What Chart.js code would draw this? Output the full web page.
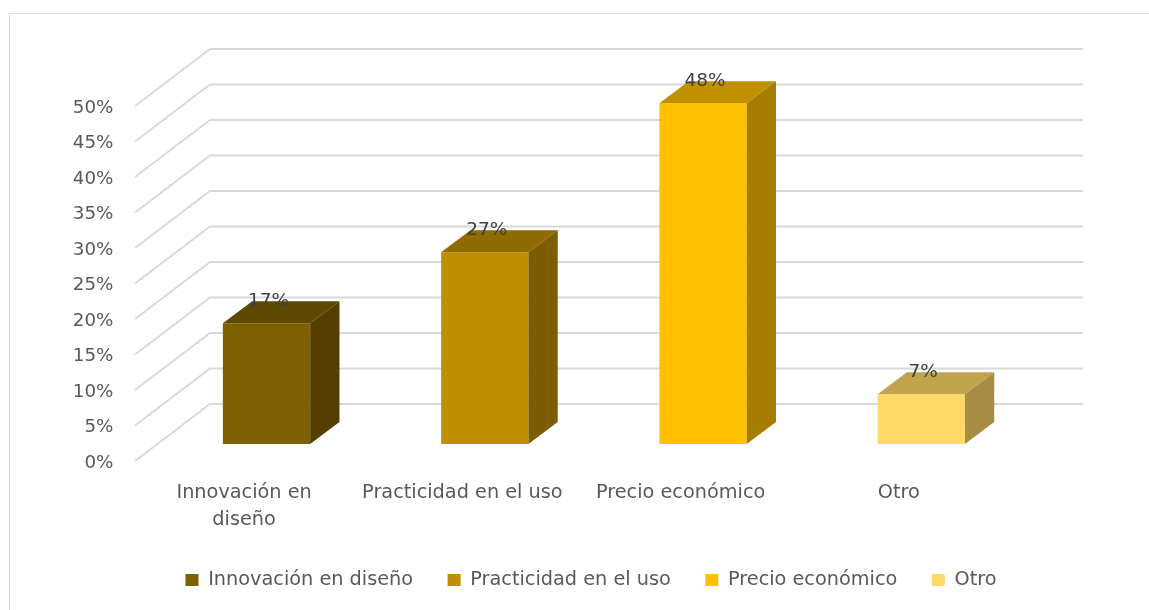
<!DOCTYPE html>
<html lang="es">
<head>
<meta charset="utf-8">
<title>Motivo de compra</title>
<script src="https://cdn.jsdelivr.net/npm/chart.js@4/dist/chart.umd.min.js"></script>
<style>
  html, body { margin: 0; padding: 0; background: #ffffff; }
  #wrap { width: 1149px; height: 610px; }
</style>
</head>
<body>
<div id="wrap"><canvas id="chart" width="1149" height="610"></canvas></div>
<script>
// Categories, axis labels and values
const categories = ['Innovación en diseño', 'Practicidad en el uso', 'Precio económico', 'Otro'];
const axisLabels = [['Innovación en', 'diseño'], 'Practicidad en el uso', 'Precio económico', 'Otro'];
const values = [17, 27, 48, 7];
const barColors = ['#7F6000', '#BF8F00', '#FFC000', '#FFD966'];
const yTicks = [0, 5, 10, 15, 20, 25, 30, 35, 40, 45, 50];

const FONT = "'DejaVu Sans', sans-serif";
const TEXT = '#595959';

// 3D offsets relative to the plane in which the bar fronts sit
const WALL = { dx: 52.6, dy: -40 };   // back wall
const FRONT = { dx: -22.4, dy: 17 };  // front edge of the floor
const DEPTH = { dx: 29.3, dy: -22 };  // bar depth

function shade(hex, k) {
  const n = parseInt(hex.slice(1), 16);
  const r = Math.round(((n >> 16) & 255) * k);
  const g = Math.round(((n >> 8) & 255) * k);
  const b = Math.round((n & 255) * k);
  return 'rgb(' + r + ',' + g + ',' + b + ')';
}

const frame3d = {
  id: 'frame3d',
  beforeDraw(chart) {
    const ctx = chart.ctx;
    ctx.save();
    ctx.fillStyle = '#ffffff';
    ctx.fillRect(0, 0, chart.width, chart.height);
    ctx.strokeStyle = '#D9D9D9';
    ctx.lineWidth = 1;
    ctx.strokeRect(9.5, 13.5, chart.width + 10, chart.height + 10);
    ctx.restore();
  },
  beforeDatasetsDraw(chart) {
    const ctx = chart.ctx;
    const y = chart.scales.y;
    const area = chart.chartArea;
    ctx.save();
    ctx.strokeStyle = '#D9D9D9';
    ctx.lineWidth = 1.8;
    ctx.lineJoin = 'miter';
    yTicks.forEach(v => {
      const py = y.getPixelForValue(v);
      ctx.beginPath();
      ctx.moveTo(area.left + FRONT.dx, py + FRONT.dy);
      ctx.lineTo(area.left + WALL.dx, py + WALL.dy);
      ctx.lineTo(area.right + WALL.dx, py + WALL.dy);
      ctx.stroke();
    });
    ctx.restore();
  },
  afterDatasetsDraw(chart) {
    const ctx = chart.ctx;
    const meta = chart.getDatasetMeta(0);
    ctx.save();
    meta.data.forEach((bar, i) => {
      const p = bar.getProps(['x', 'y', 'base', 'width'], true);
      const l = p.x - p.width / 2, r = p.x + p.width / 2;
      const col = barColors[i];
      // top face
      ctx.fillStyle = shade(col, 0.75);
      ctx.beginPath();
      ctx.moveTo(l, p.y);
      ctx.lineTo(r, p.y);
      ctx.lineTo(r + DEPTH.dx, p.y + DEPTH.dy);
      ctx.lineTo(l + DEPTH.dx, p.y + DEPTH.dy);
      ctx.closePath();
      ctx.fill();
      // side face
      ctx.fillStyle = shade(col, 0.65);
      ctx.beginPath();
      ctx.moveTo(r, p.y);
      ctx.lineTo(r + DEPTH.dx, p.y + DEPTH.dy);
      ctx.lineTo(r + DEPTH.dx, p.base + DEPTH.dy);
      ctx.lineTo(r, p.base);
      ctx.closePath();
      ctx.fill();
    });
    // value labels
    ctx.fillStyle = '#404040';
    ctx.font = '18.5px ' + FONT;
    ctx.textAlign = 'center';
    ctx.textBaseline = 'alphabetic';
    meta.data.forEach((bar, i) => {
      ctx.fillText(values[i] + '%', bar.x + 2, bar.y - 17);
    });
    ctx.restore();
  }
};

new Chart(document.getElementById('chart'), {
  type: 'bar',
  data: {
    labels: axisLabels,
    datasets: [{
      data: values,
      backgroundColor: barColors,
      borderWidth: 0,
      categoryPercentage: 1,
      barPercentage: 0.4
    }]
  },
  options: {
    responsive: false,
    animation: false,
    devicePixelRatio: 1,
    layout: { padding: { left: 33, right: 0, top: 89, bottom: 10.35 } },
    scales: {
      x: {
        grid: { display: false, drawTicks: false },
        border: { display: false },
        ticks: {
          color: TEXT,
          font: { family: FONT, size: 19.3, lineHeight: 1.425 },
          padding: 34.85,
          labelOffset: FRONT.dx,
          maxRotation: 0,
          autoSkip: false
        },
        afterFit(s) { s.height = 91.85; }
      },
      y: {
        min: 0,
        max: 50,
        grid: { display: false, drawTicks: false },
        border: { display: false },
        ticks: {
          stepSize: 5,
          color: TEXT,
          font: { family: FONT, size: 18.3 },
          padding: 44,
          labelOffset: 19,
          autoSkip: false,
          callback: v => v + '%'
        },
        afterFit(s) { s.width = 124.4; }
      },
      // empty right-hand axis that reserves the space beside the back wall
      yRight: {
        position: 'right',
        min: 0,
        max: 50,
        grid: { display: false, drawTicks: false },
        border: { display: false },
        ticks: { display: false },
        afterFit(s) { s.width = 118.6; }
      }
    },
    plugins: {
      tooltip: { enabled: false },
      legend: {
        position: 'bottom',
        labels: {
          boxWidth: 13,
          boxHeight: 12,
          padding: 34.5,
          color: TEXT,
          font: { family: FONT, size: 19.3 },
          generateLabels: () => categories.map((c, i) => ({
            text: c,
            fillStyle: barColors[i],
            strokeStyle: barColors[i],
            fontColor: TEXT,
            lineWidth: 0,
            hidden: false,
            index: i
          }))
        }
      }
    }
  },
  plugins: [frame3d]
});
</script>
</body>
</html>
